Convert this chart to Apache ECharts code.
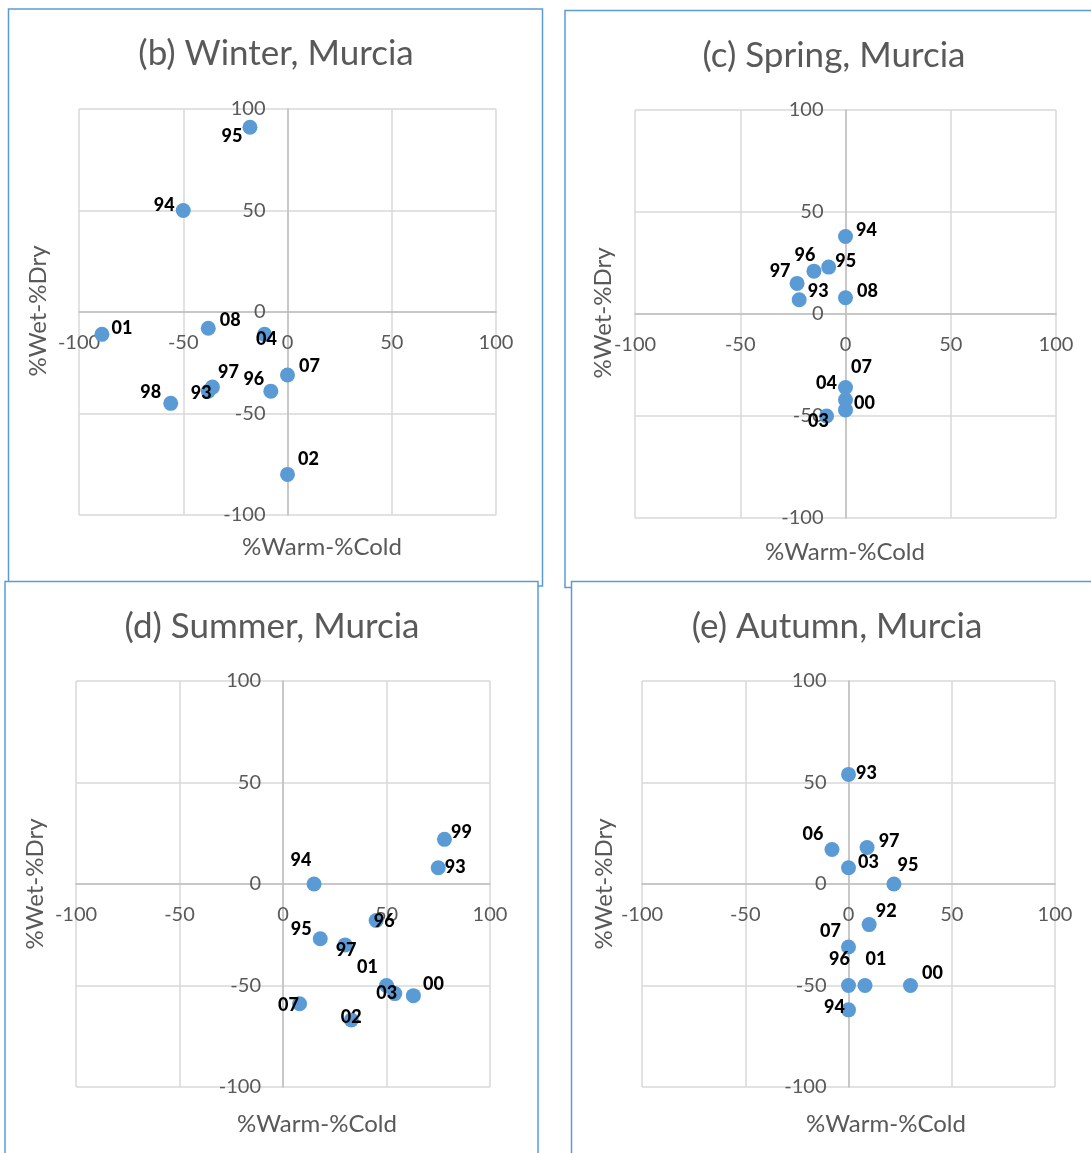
<!DOCTYPE html>
<html>
<head>
<meta charset="utf-8">
<title>Murcia seasons</title>
<script src="https://cdn.jsdelivr.net/npm/echarts@6.0.0/dist/echarts.min.js"></script>
<style>
  html, body { margin: 0; padding: 0; background: #fff; }
  #main { width: 1091px; height: 1153px; }
</style>
</head>
<body>
<div id="main"></div>
<script>
// data (x = %Warm-%Cold, y = %Wet-%Dry)
const winterYears = ['95', '94', '01', '08', '04', '07', '96', '97', '93', '98', '02'];
const winterX = [-18, -50, -89, -38, -11, 0, -8, -36, -38, -56, 0];
const winterY = [91, 50, -11, -8, -11, -31, -39, -37, -39, -45, -80];

const springYears = ['94', '95', '96', '97', '93', '08', '07', '04', '00', '03'];
const springX = [0, -8, -15, -23, -22, 0, 0, 0, 0, -9];
const springY = [38, 23, 21, 15, 7, 8, -36, -42, -47, -50];

const summerYears = ['99', '93', '94', '96', '95', '97', '01', '03', '00', '07', '02'];
const summerX = [78, 75, 15, 45, 18, 30, 50, 54, 63, 8, 33];
const summerY = [22, 8, 0, -18, -27, -30, -50, -54, -55, -59, -67];

const autumnYears = ['93', '06', '97', '03', '95', '92', '07', '96', '01', '00', '94'];
const autumnX = [0, -8, 9, 0, 22, 10, 0, 0, 8, 30, 0];
const autumnY = [54, 17, 18, 8, 0, -20, -31, -50, -50, -50, -62];

const tickValues = [-100, -50, 0, 50, 100];
const xName = '%Warm-%Cold';
const yName = '%Wet-%Dry';

// where each year label sits relative to its dot (px), as in the original
const labelOffsets = {
  winter: { '95': [-18, 9], '94': [-19, -5], '01': [20, -6], '08': [22, -8], '04': [2, 5], '07': [22, -9],
            '96': [-17, -12], '97': [16, -15], '93': [-7, 2], '98': [-20, -11], '02': [21, -15] },
  spring: { '94': [21, -6], '95': [17, -6], '96': [-9, -16], '97': [-17, -12], '93': [19, -9], '08': [22, -6],
            '07': [16, -20], '04': [-19, -16], '00': [19, -7], '03': [-8, 5] },
  summer: { '99': [17, -7], '93': [17, -1], '94': [-13, -24], '96': [8, 1], '95': [-19, -10], '97': [1, 5],
            '01': [-19, -18], '03': [-8, 0], '00': [20, -11], '07': [-11, 1], '02': [0, -3] },
  autumn: { '93': [18, -1], '06': [-19, -15], '97': [22, -6], '03': [20, -6], '95': [14, -19], '92': [17, -13],
            '07': [-18, -16], '96': [-9, -26], '01': [11, -26], '00': [22, -12], '94': [-14, -3] }
};

const panels = [
  { key: 'winter', title: '(b) Winter, Murcia', years: winterYears, xs: winterX, ys: winterY,
    grid: { left: 79, top: 109, width: 417, height: 406 }, box: [8.5, 9, 534, 577],
    titlePos: [276, 54], xNamePos: [322, 547], yNamePos: [38, 311], boxZ: -20 },
  { key: 'spring', title: '(c) Spring, Murcia', years: springYears, xs: springX, ys: springY,
    grid: { left: 635, top: 110, width: 421, height: 408 }, box: [565, 10.5, 540, 577],
    titlePos: [834, 56], xNamePos: [845, 552], yNamePos: [603, 313], boxZ: -20 },
  { key: 'summer', title: '(d) Summer, Murcia', years: summerYears, xs: summerX, ys: summerY,
    grid: { left: 76, top: 681, width: 414, height: 406 }, box: [5, 581.5, 533, 600],
    titlePos: [272, 627], xNamePos: [317, 1124], yNamePos: [35, 884], boxZ: -10 },
  { key: 'autumn', title: '(e) Autumn, Murcia', years: autumnYears, xs: autumnX, ys: autumnY,
    grid: { left: 642, top: 681, width: 413, height: 406 }, box: [571.5, 581.5, 540, 600],
    titlePos: [837, 627], xNamePos: [886, 1124], yNamePos: [604, 884], boxZ: -10 }
];

const FONT = 'Lato, "Open Sans", sans-serif';
const GREY = '#595959';

const chart = echarts.init(document.getElementById('main'), null, { renderer: 'canvas' });

const grids = [], xAxes = [], yAxes = [], series = [], graphics = [];

panels.forEach((p, i) => {
  grids.push(Object.assign({ outerBoundsMode: 'none', containLabel: false }, p.grid));

  const axisBase = {
    gridIndex: i,
    type: 'value',
    min: tickValues[0],
    max: tickValues[tickValues.length - 1],
    interval: tickValues[1] - tickValues[0],
    axisLine: { show: true, onZero: false, lineStyle: { color: '#bfbfbf', width: 1.5 } },
    axisTick: { show: false },
    splitLine: { show: true, lineStyle: { color: '#d9d9d9', width: 1.5 } },
    axisLabel: { color: GREY, fontSize: 20, fontFamily: FONT }
  };
  // the axes cross at 0,0 which is the middle of each grid; shift the whole axis there
  xAxes.push(Object.assign({}, axisBase, {
    position: 'bottom', offset: -p.grid.height / 2,
    axisLabel: Object.assign({}, axisBase.axisLabel, { margin: 21 })
  }));
  yAxes.push(Object.assign({}, axisBase, {
    position: 'left', offset: -p.grid.width / 2,
    axisLabel: Object.assign({}, axisBase.axisLabel, { margin: 22 })
  }));

  const offs = labelOffsets[p.key];
  series.push({
    type: 'scatter',
    xAxisIndex: i,
    yAxisIndex: i,
    symbolSize: 15,
    itemStyle: { color: '#5b9bd5', opacity: 1 },
    label: {
      show: true,
      position: 'inside',
      color: '#000',
      fontWeight: 900,
      fontSize: 18,
      fontFamily: FONT,
      formatter: (d) => d.name
    },
    data: p.years.map((yr, k) => ({
      name: yr,
      value: [p.xs[k], p.ys[k]],
      label: { offset: offs[yr] || [0, 0] }
    }))
  });

  // panel frame
  graphics.push({
    type: 'rect',
    z: p.boxZ,
    shape: { x: p.box[0], y: p.box[1], width: p.box[2], height: p.box[3] },
    style: { fill: '#fff', stroke: '#5b9bd5', lineWidth: 1.5 }
  });
  // title
  graphics.push({
    type: 'text', z: 10, x: p.titlePos[0], y: p.titlePos[1],
    style: { text: p.title, fill: GREY, fontSize: 35, fontFamily: FONT,
             align: 'center', verticalAlign: 'middle', textAlign: 'center', textVerticalAlign: 'middle' }
  });
  // axis names
  graphics.push({
    type: 'text', z: 10, x: p.xNamePos[0], y: p.xNamePos[1],
    style: { text: xName, fill: GREY, fontSize: 24, fontFamily: FONT,
             align: 'center', verticalAlign: 'middle', textAlign: 'center', textVerticalAlign: 'middle' }
  });
  graphics.push({
    type: 'text', z: 10, x: p.yNamePos[0], y: p.yNamePos[1], rotation: Math.PI / 2,
    style: { text: yName, fill: GREY, fontSize: 24, fontFamily: FONT,
             align: 'center', verticalAlign: 'middle', textAlign: 'center', textVerticalAlign: 'middle' }
  });
});

chart.setOption({
  backgroundColor: '#fff',
  animation: false,
  grid: grids,
  xAxis: xAxes,
  yAxis: yAxes,
  series: series,
  graphic: { elements: graphics }
});
</script>
</body>
</html>
